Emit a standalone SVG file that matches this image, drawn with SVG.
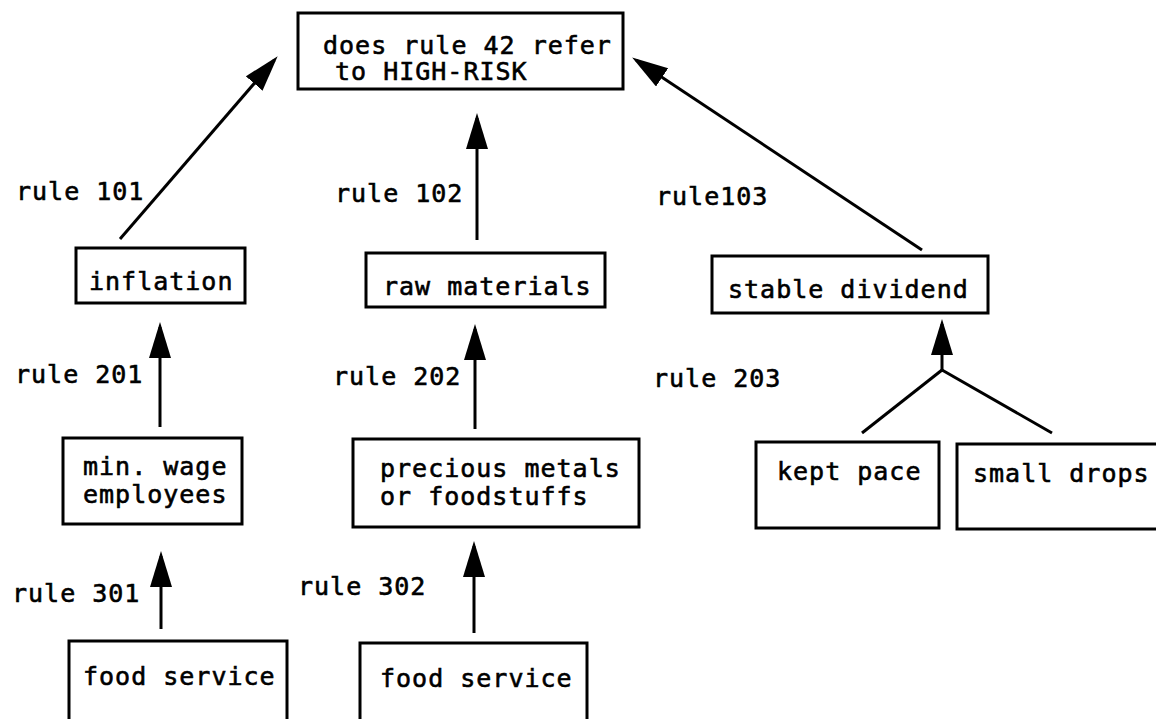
<svg xmlns="http://www.w3.org/2000/svg" width="1156" height="719" viewBox="0 0 1156 719">
<style>
  rect.box { fill: #fff; stroke: #000; stroke-width: 3; }
  text { font-family: "DejaVu Sans Mono", "Liberation Mono", monospace; font-size: 25px; letter-spacing: 1px; fill: #000; stroke: #000; stroke-width: 0.6; }
  .conn line { stroke: #000; stroke-width: 3; fill: none; }
  .conn line.arr { marker-end: url(#head); }
</style>
<defs>
  <marker id="head" markerUnits="userSpaceOnUse" markerWidth="38" markerHeight="24" refX="31" refY="11" orient="auto">
    <path d="M0,0 L36,11 L0,22 Z" fill="#000"/>
  </marker>
</defs>
<rect width="1156" height="719" fill="#fff"/>

<g id="connectors" class="conn">
  <line class="arr" x1="120" y1="239" x2="274.4" y2="60"/>
  <line class="arr" x1="477" y1="240" x2="477" y2="118"/>
  <line class="arr" x1="922" y1="250" x2="636.3" y2="60.2"/>
  <line class="arr" x1="160" y1="427" x2="160" y2="327"/>
  <line class="arr" x1="475" y1="429" x2="475" y2="329"/>
  <line class="arr" x1="942" y1="372" x2="942" y2="324"/>
  <line x1="942" y1="370" x2="862" y2="433"/>
  <line x1="942" y1="370" x2="1052" y2="433"/>
  <line class="arr" x1="161" y1="629" x2="161" y2="556"/>
  <line class="arr" x1="474" y1="633" x2="474" y2="546"/>
</g>

<g id="labels">
  <text x="16" y="200">rule 101</text>
  <text x="335" y="202">rule 102</text>
  <text x="656" y="205">rule103</text>
  <text x="15" y="383">rule 201</text>
  <text x="333" y="385">rule 202</text>
  <text x="653" y="387">rule 203</text>
  <text x="12" y="602">rule 301</text>
  <text x="298" y="595">rule 302</text>
</g>

<g id="node-top">
  <rect class="box" x="298" y="13" width="325" height="76"/>
  <text x="323" y="54">does rule 42 refer</text>
  <text x="335" y="80">to HIGH-RISK</text>
</g>
<g id="node-inflation">
  <rect class="box" x="76" y="248" width="169" height="55"/>
  <text x="89" y="290">inflation</text>
</g>
<g id="node-raw">
  <rect class="box" x="366" y="253" width="239" height="54"/>
  <text x="383" y="295">raw materials</text>
</g>
<g id="node-stable">
  <rect class="box" x="712" y="256" width="276" height="57"/>
  <text x="728" y="298">stable dividend</text>
</g>
<g id="node-minwage">
  <rect class="box" x="63" y="438" width="179" height="86"/>
  <text x="83" y="475">min. wage</text>
  <text x="83" y="503">employees</text>
</g>
<g id="node-precious">
  <rect class="box" x="353" y="439" width="286" height="88"/>
  <text x="380" y="477">precious metals</text>
  <text x="380" y="505">or foodstuffs</text>
</g>
<g id="node-kept">
  <rect class="box" x="756" y="442" width="183" height="86"/>
  <text x="777" y="480">kept pace</text>
</g>
<g id="node-small">
  <rect class="box" x="957" y="444" width="215" height="85"/>
  <text x="973" y="482">small drops</text>
</g>
<g id="node-food1">
  <rect class="box" x="69" y="641" width="218" height="95"/>
  <text x="83" y="685">food service</text>
</g>
<g id="node-food2">
  <rect class="box" x="360" y="643" width="227" height="95"/>
  <text x="380" y="687">food service</text>
</g>
</svg>
